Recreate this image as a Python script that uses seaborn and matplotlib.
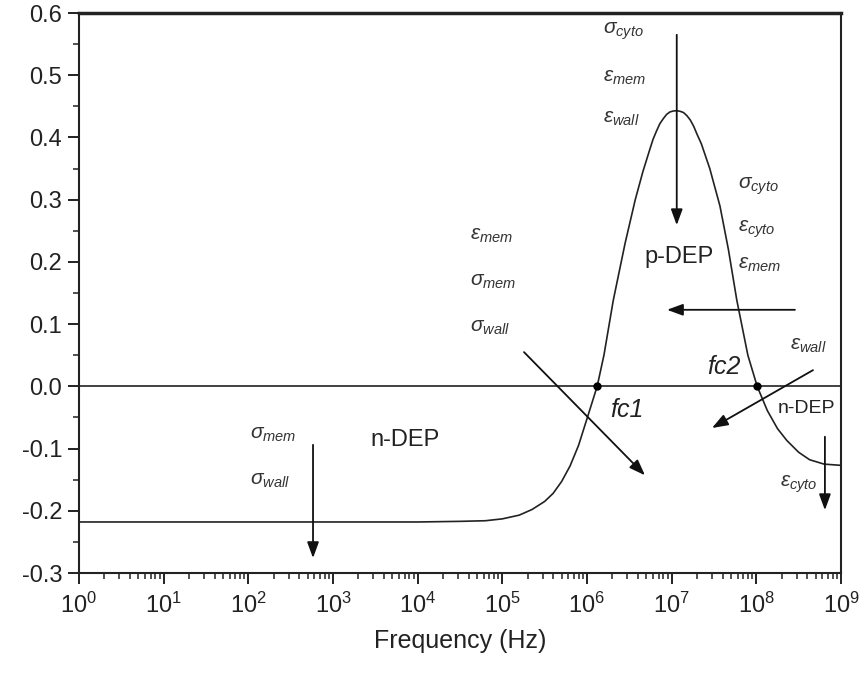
import numpy as np
import pandas as pd
import matplotlib
matplotlib.use("Agg")
import matplotlib.pyplot as plt
import matplotlib.ticker as mticker
import seaborn as sns

# ---- data (log10 frequency, CM factor) ----
log_freq = [0.0, 1.0, 2.0, 3.0, 4.0, 4.5, 4.8, 5.0, 5.2, 5.35, 5.5, 5.6, 5.7, 5.8,
            5.9, 6.0, 6.12, 6.2, 6.31, 6.45, 6.57, 6.66, 6.74, 6.78, 6.82, 6.86,
            6.9, 6.94, 6.98, 7.02, 7.06, 7.10, 7.14, 7.18, 7.22, 7.26, 7.3, 7.35,
            7.4, 7.45, 7.49, 7.53, 7.57, 7.67, 7.77, 7.9, 8.01, 8.13, 8.25, 8.36,
            8.5, 8.63, 8.8, 9.0]
cm_factor = [-0.218, -0.218, -0.218, -0.218, -0.218, -0.217, -0.216, -0.213, -0.207,
             -0.198, -0.185, -0.172, -0.153, -0.128, -0.095, -0.052, 0.0, 0.05, 0.138,
             0.23, 0.30, 0.345, 0.38, 0.397, 0.41, 0.422, 0.43, 0.437, 0.441, 0.4425,
             0.443, 0.442, 0.44, 0.435, 0.428, 0.418, 0.405, 0.39, 0.37, 0.35, 0.33,
             0.31, 0.29, 0.22, 0.138, 0.05, 0.0, -0.039, -0.068, -0.087, -0.106,
             -0.118, -0.125, -0.127]
crossover_log_freq = [6.12, 8.01]
crossover_labels = ["fc1", "fc2"]
x_tick_exponents = list(range(0, 10))
y_ticks = [-0.3, -0.2, -0.1, 0.0, 0.1, 0.2, 0.3, 0.4, 0.5, 0.6]

df = pd.DataFrame({"Frequency": np.power(10.0, log_freq), "CM": cm_factor})

sns.set_theme(style="ticks")
plt.rcParams["font.family"] = ["Liberation Sans", "DejaVu Sans"]
plt.rcParams["mathtext.fontset"] = "custom"
plt.rcParams["mathtext.rm"] = "Liberation Sans"
plt.rcParams["mathtext.it"] = "Liberation Sans:italic"
plt.rcParams["mathtext.bf"] = "Liberation Sans:bold"

fig = plt.figure(figsize=(8.66, 6.81), dpi=100)
ax = fig.add_axes([79 / 866, 1 - 573 / 681, (841 - 79) / 866, (573 - 13) / 681])

sns.lineplot(data=df, x="Frequency", y="CM", ax=ax, color="#222222", lw=1.2)
ax.axhline(0, color="#333333", lw=1.3)
ax.plot(np.power(10.0, crossover_log_freq), [0, 0], "o", color="black", ms=5)

ax.set_xscale("log")
ax.set_xlim(1, 1e9)
ax.set_ylim(-0.3, 0.6)
ax.set_xticks([10.0 ** e for e in x_tick_exponents])
ax.set_xticklabels([r"$10^{%d}$" % e for e in x_tick_exponents])
minor = [m * 10.0 ** e for e in x_tick_exponents[:-1] for m in range(2, 10)]
ax.xaxis.set_minor_locator(mticker.FixedLocator(minor))
ax.xaxis.set_minor_formatter(mticker.NullFormatter())
ax.set_yticks(y_ticks)
ax.set_yticklabels(["%.1f" % v for v in y_ticks])
ax.yaxis.set_minor_locator(mticker.FixedLocator([v + 0.05 for v in y_ticks[:-1]]))

for s in ["top", "right", "left", "bottom"]:
    ax.spines[s].set_visible(True)
    ax.spines[s].set_color("#222222")
    ax.spines[s].set_linewidth(1.5)
ax.spines["top"].set_linewidth(2.5)

ax.tick_params(axis="both", which="major", direction="out", length=8, width=1.4,
               color="#222222", labelcolor="#222222")
ax.tick_params(axis="both", which="minor", direction="out", length=4, width=1.1,
               color="#222222")
ax.tick_params(axis="y", labelsize=17, pad=4)
ax.tick_params(axis="x", labelsize=17, pad=6)
ax.set_xlabel("Frequency (Hz)", fontsize=18, color="#222222", labelpad=8)
ax.set_ylabel("")


def F(lg):
    return 10.0 ** lg


ts = 15
tc = "#333333"
# top group
for txt, y in [(r"$\sigma_{cyto}$", 0.571), (r"$\varepsilon_{mem}$", 0.496), (r"$\varepsilon_{wall}$", 0.431)]:
    ax.text(F(6.19), y, txt, fontsize=ts, color=tc, ha="left", va="center")
# right group
for txt, y in [(r"$\sigma_{cyto}$", 0.322), (r"$\varepsilon_{cyto}$", 0.253), (r"$\varepsilon_{mem}$", 0.195)]:
    ax.text(F(7.78), y, txt, fontsize=ts, color=tc, ha="left", va="center")
# left-middle group
for txt, y in [(r"$\varepsilon_{mem}$", 0.242), (r"$\sigma_{mem}$", 0.169), (r"$\sigma_{wall}$", 0.095)]:
    ax.text(F(4.62), y, txt, fontsize=ts, color=tc, ha="left", va="center")
ax.text(F(8.40), 0.065, r"$\varepsilon_{wall}$", fontsize=ts, color=tc, ha="left", va="center")
ax.text(F(8.28), -0.157, r"$\varepsilon_{cyto}$", fontsize=ts, color=tc, ha="left", va="center")
ax.text(F(2.02), -0.078, r"$\sigma_{mem}$", fontsize=ts, color=tc, ha="left", va="center")
ax.text(F(2.02), -0.151, r"$\sigma_{wall}$", fontsize=ts, color=tc, ha="left", va="center")

ax.text(F(3.85), -0.086, "n-DEP", fontsize=17, color="#222222", ha="center", va="center")
ax.text(F(7.09), 0.208, "p-DEP", fontsize=17, color="#222222", ha="center", va="center")
ax.text(F(8.59), -0.035, "n-DEP", fontsize=14, color="#222222", ha="center", va="center")
ax.text(F(6.47), -0.038, crossover_labels[0], fontsize=18, style="italic", color="#222222",
        ha="center", va="center")
ax.text(F(7.62), 0.031, crossover_labels[1], fontsize=18, style="italic", color="#222222",
        ha="center", va="center")

ap = dict(arrowstyle="-|>,head_length=0.6,head_width=0.22", color="#111111", lw=1.3,
          mutation_scale=16, shrinkA=0, shrinkB=0)
for (x0, y0), (x1, y1) in [
    ((7.06, 0.565), (7.06, 0.259)),
    ((8.456, 0.123), (6.945, 0.123)),
    ((5.256, 0.055), (6.685, -0.143)),
    ((8.669, 0.026), (7.476, -0.067)),
    ((8.81, -0.081), (8.81, -0.199)),
    ((2.764, -0.094), (2.764, -0.276)),
]:
    ax.annotate("", xy=(F(x1), y1), xytext=(F(x0), y0), arrowprops=ap)

fig.savefig("out.png", dpi=100)
